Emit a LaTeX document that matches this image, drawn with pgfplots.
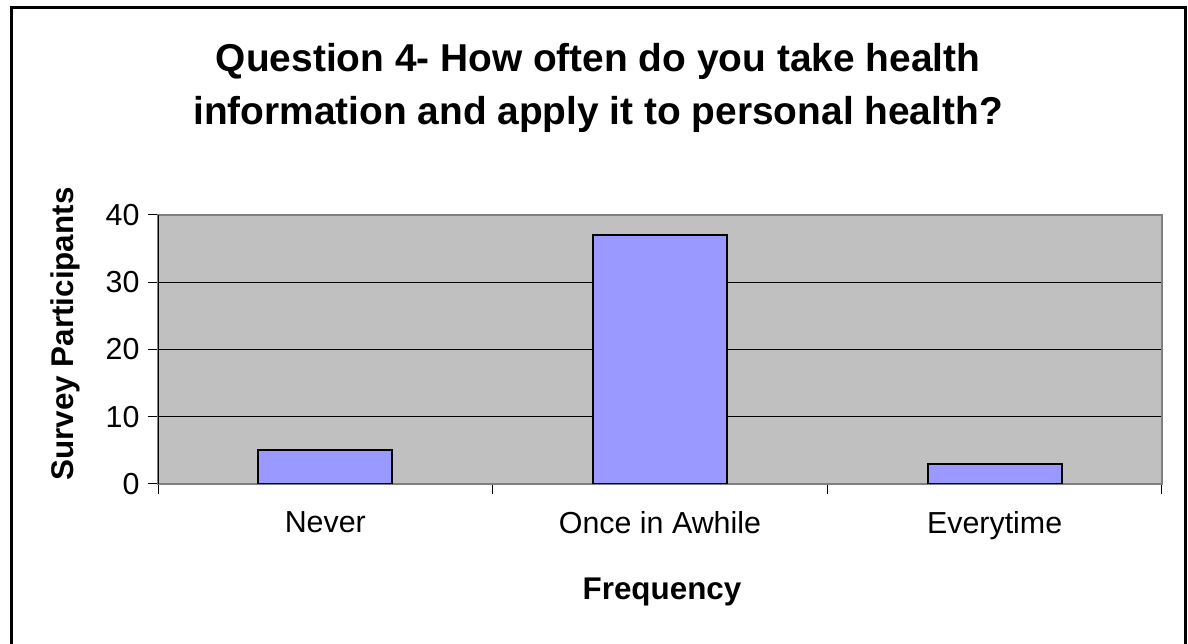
\documentclass[border=0pt]{standalone}
\usepackage{pgfplots}
\pgfplotsset{compat=1.18}
\usepackage{fontspec}
\setmainfont{Liberation Sans}
\definecolor{plotgray}{HTML}{C0C0C0}
\definecolor{barblue}{HTML}{9999FF}
\definecolor{bordergray}{HTML}{808080}
\begin{document}
\begin{tikzpicture}[x=1bp,y=1bp]
\path[use as bounding box] (0,0) rectangle (1188,644);
\draw[line width=3bp] (11.5,-10) -- (11.5,636) -- (1185,636) -- (1185,-10);
\node[font=\fontsize{39}{46}\selectfont\bfseries, anchor=base] at (598,572) {Question 4- How often do you take health};
\node[font=\fontsize{39}{46}\selectfont\bfseries, anchor=base] at (598,519) {information and apply it to personal health?};
\node[font=\fontsize{31.5}{36}\selectfont\bfseries, rotate=90, anchor=base] at (73,310) {Survey Participants};
\node[font=\fontsize{31.5}{36}\selectfont\bfseries, anchor=base] at (662,44) {Frequency};
\begin{axis}[
  at={(158bp,160bp)}, anchor=south west,
  scale only axis, width=1004bp, height=269bp,
  xmin=-0.5, xmax=2.5, ymin=0, ymax=40,
  axis background/.style={fill=plotgray},
  axis line style={bordergray, line width=1.5bp},
  xtick={-0.5,0.5,1.5,2.5}, xticklabels={},
  extra x ticks={0,1,2},
  extra x tick labels={Never,Once in Awhile,Everytime},
  extra x tick style={major tick length=0pt, tick label style={yshift=-24bp}},
  ytick={0,10,20,30,40},
  xtick pos=bottom, ytick pos=left,
  tick align=outside, major tick length=10bp,
  tick style={black, line width=1bp},
  ymajorgrids, major grid style={black, line width=1bp},
  ticklabel style={font=\fontsize{30.5}{34}\selectfont},
  yticklabel style={xshift=-5bp},
  /pgf/number format/assume math mode=true,
]
\addplot[ybar, bar width=0.4, fill=barblue, draw=black, line width=2bp] coordinates {(0,5) (1,37) (2,3)};
\draw[black, line width=1.5bp] (rel axis cs:0,0) -- (rel axis cs:0,1);
\end{axis}
\end{tikzpicture}
\end{document}
